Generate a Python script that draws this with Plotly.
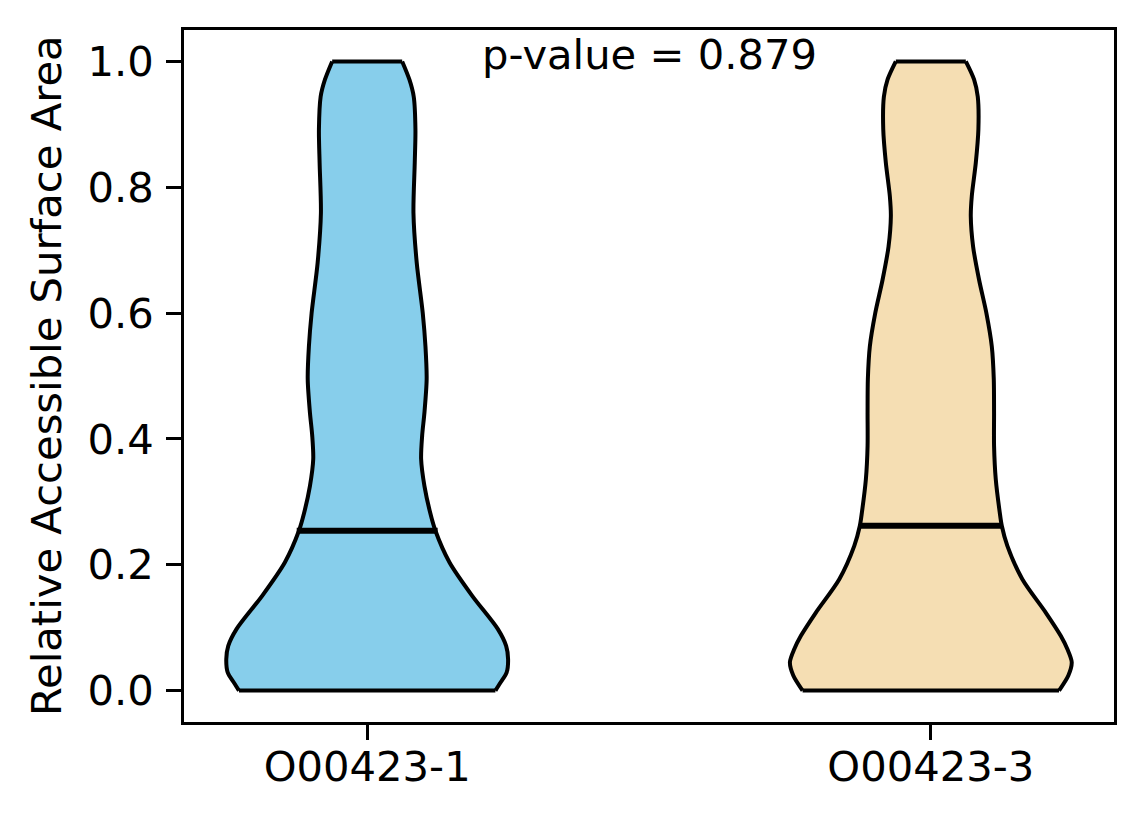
import plotly.graph_objects as go

# ---- data ----
categories = ["O00423-1", "O00423-3"]
positions = [1, 2]
medians = [0.254, 0.262]
p_value_text = "p-value = 0.879"

# violin outline: y levels (bottom -> top) and half-widths (data units)
v1_y = [0.0, 0.012, 0.029, 0.050, 0.071, 0.098, 0.151, 0.204, 0.254, 0.283, 0.325,
        0.368, 0.405, 0.442, 0.495, 0.547, 0.600, 0.680, 0.759, 0.839, 0.892,
        0.944, 0.971, 1.0]
v1_hw = [0.2275, 0.2360, 0.2475, 0.2500, 0.2465, 0.2316, 0.1860, 0.1459, 0.1211,
         0.1117, 0.1016, 0.0957, 0.0975, 0.1016, 0.1055, 0.1034, 0.0986, 0.0879,
         0.0821, 0.0844, 0.0856, 0.0826, 0.0750, 0.0621]

v2_y = [0.0, 0.024, 0.045, 0.066, 0.087, 0.124, 0.177, 0.230, 0.262, 0.283, 0.336,
        0.389, 0.442, 0.495, 0.547, 0.600, 0.653, 0.706, 0.754, 0.786, 0.839,
        0.892, 0.944, 0.971, 1.0]
v2_hw = [0.2275, 0.2440, 0.2500, 0.2422, 0.2305, 0.2039, 0.1624, 0.1358, 0.1259,
         0.1223, 0.1152, 0.1122, 0.1122, 0.1117, 0.1082, 0.0986, 0.0856, 0.0750,
         0.0709, 0.0727, 0.0798, 0.0844, 0.0833, 0.0768, 0.0621]

y_ticks = [0.0, 0.2, 0.4, 0.6, 0.8, 1.0]

colors = ["#87CEEB", "#F5DEB3"]
median_halfspan = 0.125

EDGE_W = 4
MED_W = 6
FONT = "DejaVu Sans"
FS = 41.7

fig = go.Figure()

for pos, ys, hws, col, med in zip(positions, [v1_y, v2_y], [v1_hw, v2_hw], colors, medians):
    left = [pos - h for h in hws]
    right = [pos + h for h in hws]
    fig.add_trace(go.Scatter(x=left, y=ys, mode="lines",
                             line=dict(color="black", width=EDGE_W, shape="spline", smoothing=0.8),
                             showlegend=False, hoverinfo="skip"))
    fig.add_trace(go.Scatter(x=right, y=ys, mode="lines", fill="tonextx", fillcolor=col,
                             line=dict(color="black", width=EDGE_W, shape="spline", smoothing=0.8),
                             showlegend=False, hoverinfo="skip"))
    # flat bottom and top edges
    fig.add_trace(go.Scatter(x=[left[0], right[0]], y=[ys[0], ys[0]], mode="lines",
                             line=dict(color="black", width=EDGE_W),
                             showlegend=False, hoverinfo="skip"))
    fig.add_trace(go.Scatter(x=[left[-1], right[-1]], y=[ys[-1], ys[-1]], mode="lines",
                             line=dict(color="black", width=EDGE_W),
                             showlegend=False, hoverinfo="skip"))
    # median line
    fig.add_trace(go.Scatter(x=[pos - median_halfspan, pos + median_halfspan], y=[med, med],
                             mode="lines", line=dict(color="black", width=MED_W),
                             showlegend=False, hoverinfo="skip"))

fig.add_annotation(x=1.5, y=1.0115, xref="x", yref="y", text=p_value_text,
                   showarrow=False, xanchor="center", yanchor="middle",
                   font=dict(family=FONT, size=FS, color="black"))

fig.add_annotation(x=(38 - 176) / 930, y=0.5, xref="paper", yref="paper",
                   text="Relative Accessible Surface Area", textangle=-90,
                   showarrow=False, xanchor="center", yanchor="middle",
                   font=dict(family=FONT, size=FS, color="black"))

axis_common = dict(showline=True, linecolor="black", linewidth=3.3, mirror=True,
                   ticks="outside", ticklen=14.6, tickwidth=3.3, tickcolor="black",
                   showgrid=False, zeroline=False,
                   tickfont=dict(family=FONT, size=FS, color="black"))

fig.update_xaxes(range=[0.675, 2.325], tickvals=positions, ticktext=categories,
                 ticklabelstandoff=-9, **axis_common)
fig.update_yaxes(range=[-0.05, 1.05], tickvals=y_ticks,
                 ticktext=[f"{v:.1f}" for v in y_ticks],
                 ticklabelstandoff=4, **axis_common)

fig.update_layout(width=1128, height=808,
                  margin=dict(l=176, r=22, t=22, b=94, autoexpand=False),
                  plot_bgcolor="white", paper_bgcolor="white",
                  font=dict(family=FONT, size=FS, color="black"))

fig.write_html("out.html")
